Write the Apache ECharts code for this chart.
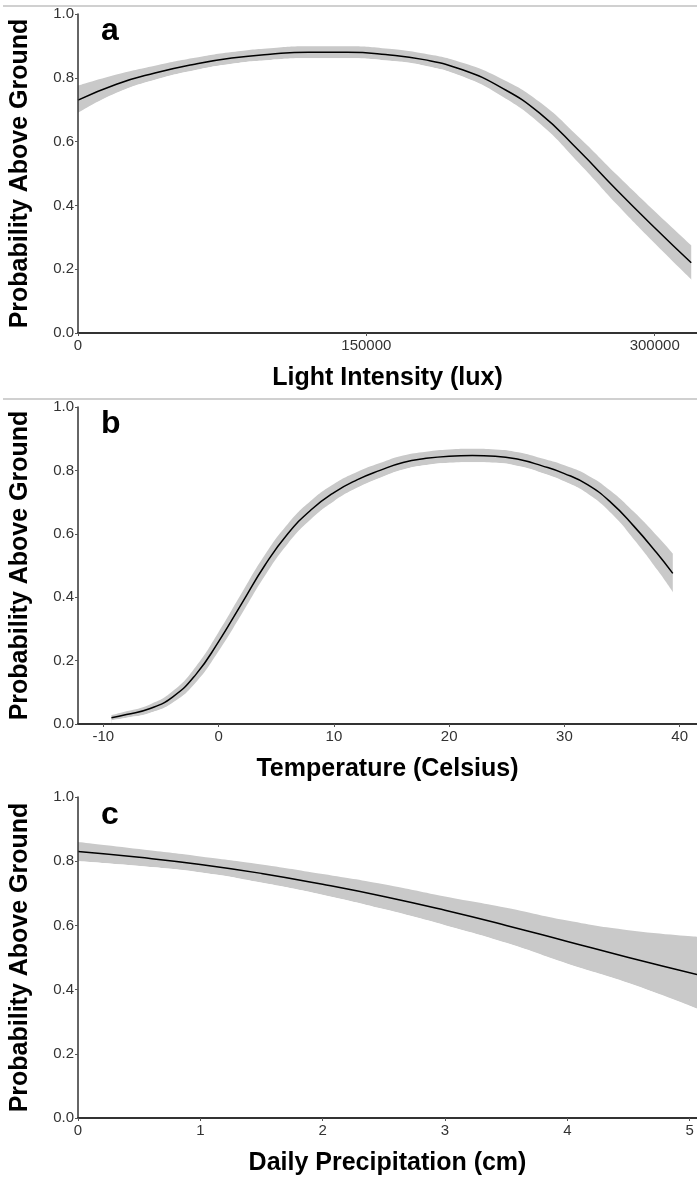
<!DOCTYPE html>
<html lang="en">

<head>
  <meta charset="UTF-8">
  <title>Probability Above Ground</title>
  <script src="https://cdn.jsdelivr.net/npm/echarts@6/dist/echarts.min.js"></script>
  <style>
    body { margin: 0; background: #fff; }
  </style>
</head>

<body>
  <div id="main" style="width: 697px;height:1179px;"></div>

  <script>
    // panel a - light intensity
    let lightX = [0, 20000, 40000, 60000, 80000, 100000, 120000, 140000, 160000, 180000, 200000, 220000, 240000, 260000, 280000, 300000, 319000];
    let lightMean = [0.73, 0.78, 0.815, 0.842, 0.862, 0.874, 0.88, 0.88, 0.873, 0.857, 0.825, 0.77, 0.69, 0.575, 0.45, 0.33, 0.22];
    let lightLo = [0.69, 0.753, 0.794, 0.823, 0.844, 0.856, 0.861, 0.861, 0.854, 0.838, 0.803, 0.742, 0.655, 0.533, 0.402, 0.278, 0.165];
    let lightHi = [0.775, 0.81, 0.838, 0.862, 0.881, 0.893, 0.899, 0.899, 0.892, 0.876, 0.847, 0.798, 0.725, 0.617, 0.498, 0.382, 0.275];

    // panel b - temperature
    let tempX = [-9.3, -8, -6, -4, -2, 0, 2, 4, 6, 8, 10, 12, 14, 16, 18, 20, 22, 24, 26, 28, 30, 32, 34, 36, 38, 39.4];
    let tempMean = [0.02, 0.03, 0.048, 0.085, 0.155, 0.26, 0.38, 0.5, 0.6, 0.675, 0.73, 0.77, 0.8, 0.825, 0.838, 0.845, 0.847, 0.845, 0.835, 0.815, 0.79, 0.755, 0.7, 0.625, 0.54, 0.475];
    let tempLo = [0.012, 0.02, 0.035, 0.067, 0.13, 0.23, 0.347, 0.467, 0.569, 0.646, 0.703, 0.745, 0.777, 0.803, 0.817, 0.824, 0.826, 0.824, 0.813, 0.792, 0.764, 0.725, 0.664, 0.58, 0.485, 0.412];
    let tempHi = [0.028, 0.04, 0.061, 0.103, 0.18, 0.29, 0.413, 0.533, 0.631, 0.704, 0.757, 0.795, 0.823, 0.847, 0.859, 0.866, 0.868, 0.866, 0.857, 0.838, 0.816, 0.785, 0.736, 0.67, 0.595, 0.538];

    // panel c - daily precipitation
    let precX = [0, 0.5, 1, 1.5, 2, 2.5, 3, 3.5, 4, 4.5, 5.06];
    let precMean = [0.83, 0.812, 0.79, 0.762, 0.728, 0.69, 0.647, 0.6, 0.55, 0.5, 0.447];
    let precLo = [0.8, 0.785, 0.765, 0.733, 0.695, 0.65, 0.6, 0.545, 0.48, 0.42, 0.34];
    let precHi = [0.86, 0.838, 0.815, 0.79, 0.76, 0.728, 0.69, 0.655, 0.615, 0.585, 0.565];

    let yTicks = [0, 0.2, 0.4, 0.6, 0.8, 1.0];
    let lightTicks = [0, 150000, 300000];
    let tempTicks = [-10, 0, 10, 20, 30, 40];
    let precTicks = [0, 1, 2, 3, 4, 5];

    let font = 'Liberation Sans, Arial, sans-serif';

    function pairs(xs, ys) {
      return xs.map(function (x, i) { return [x, ys[i]]; });
    }

    // band = grey area down to 0 under the upper bound, covered by white under the lower bound
    function bandSeries(idx, xs, lo, hi, mean) {
      let common = {
        type: 'line', xAxisIndex: idx, yAxisIndex: idx,
        smooth: true, symbol: 'none', silent: true
      };
      return [
        Object.assign({}, common, {
          z: 2, lineStyle: { width: 0, opacity: 0 },
          areaStyle: { color: '#c9c9c9', opacity: 1, origin: 'start' },
          data: pairs(xs, hi)
        }),
        Object.assign({}, common, {
          z: 3, lineStyle: { width: 0, opacity: 0 },
          // white shadow hides the antialiased edge left at the band's end
          areaStyle: { color: '#fff', opacity: 1, origin: 'start', shadowColor: '#fff', shadowBlur: 0, shadowOffsetX: 1 },
          data: pairs(xs, lo)
        }),
        Object.assign({}, common, {
          z: 5, lineStyle: { color: '#000', width: 1.5 },
          data: pairs(xs, mean)
        })
      ];
    }

    function xAxisOf(idx, min, max, ticks, name) {
      return {
        type: 'value', gridIndex: idx, min: min, max: max, z: 10,
        name: name, nameLocation: 'middle', nameGap: 33,
        nameTextStyle: { fontFamily: font, fontSize: 25, fontWeight: 'bold', color: '#000' },
        axisLine: { onZero: false, lineStyle: { color: '#333', width: 2 } },
        axisTick: { customValues: ticks, length: 3, lineStyle: { color: '#555' } },
        axisLabel: {
          customValues: ticks, fontFamily: font, fontSize: 15, color: '#333', margin: 5,
          formatter: function (v) { return String(v); }
        },
        splitLine: { show: false }
      };
    }

    function yAxisOf(idx) {
      return {
        type: 'value', gridIndex: idx, min: 0, max: 1, z: 10,
        name: 'Probability Above Ground', nameLocation: 'middle', nameGap: 45,
        nameTextStyle: { fontFamily: font, fontSize: 25, fontWeight: 'bold', color: '#000' },
        axisLine: { show: true, onZero: false, lineStyle: { color: '#333', width: 1.5 } },
        axisTick: { show: true, customValues: yTicks, length: 3, lineStyle: { color: '#555' } },
        axisLabel: {
          customValues: yTicks, fontFamily: font, fontSize: 15, color: '#333', margin: 4,
          formatter: function (v) { return v.toFixed(1); }
        },
        splitLine: { show: false }
      };
    }

    let myChart = echarts.init(document.getElementById('main'));

    let option = {
      animation: false,
      backgroundColor: '#fff',
      title: [
        { text: 'a', left: 96, top: 10, textStyle: { fontFamily: font, fontSize: 32, fontWeight: 'bold', color: '#000' } },
        { text: 'b', left: 96, top: 403, textStyle: { fontFamily: font, fontSize: 32, fontWeight: 'bold', color: '#000' } },
        { text: 'c', left: 96, top: 794, textStyle: { fontFamily: font, fontSize: 32, fontWeight: 'bold', color: '#000' } }
      ],
      graphic: [
        { type: 'line', shape: { x1: 3, y1: 6, x2: 697, y2: 6 }, style: { stroke: '#d0d0d0', lineWidth: 2 } },
        { type: 'line', shape: { x1: 3, y1: 399, x2: 697, y2: 399 }, style: { stroke: '#d0d0d0', lineWidth: 2 } }
      ],
      grid: [
        { left: 76, right: 0, top: 14, height: 319 },
        { left: 76, right: 0, top: 407, height: 317 },
        { left: 76, right: 0, top: 797, height: 321 }
      ],
      xAxis: [
        xAxisOf(0, 0, 322000, lightTicks, 'Light Intensity (lux)'),
        xAxisOf(1, -12.2, 41.5, tempTicks, 'Temperature (Celsius)'),
        xAxisOf(2, 0, 5.06, precTicks, 'Daily Precipitation (cm)')
      ],
      yAxis: [yAxisOf(0), yAxisOf(1), yAxisOf(2)],
      series: [].concat(
        bandSeries(0, lightX, lightLo, lightHi, lightMean),
        bandSeries(1, tempX, tempLo, tempHi, tempMean),
        bandSeries(2, precX, precLo, precHi, precMean)
      )
    };

    myChart.setOption(option);
  </script>
</body>

</html>
